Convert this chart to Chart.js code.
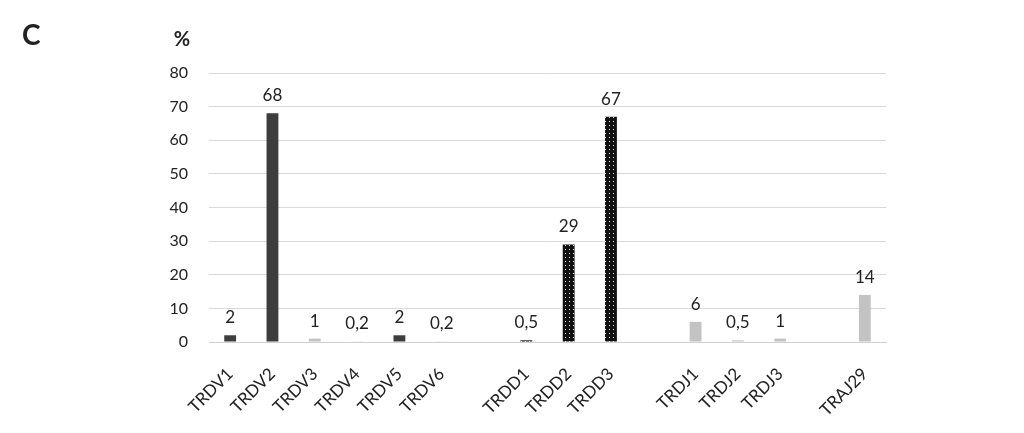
<!DOCTYPE html>
<html>
<head>
<meta charset="utf-8">
<script src="https://cdn.jsdelivr.net/npm/chart.js@4.4.0/dist/chart.umd.min.js"></script>
<style>
  html, body { margin: 0; padding: 0; background: #fff; }
  #wrap { width: 1024px; height: 433px; position: relative; }
</style>
</head>
<body>
<div id="wrap"><canvas id="chart"></canvas></div>
<script>
// categories ('' = empty gap slot between gene groups)
const categories = ['TRDV1', 'TRDV2', 'TRDV3', 'TRDV4', 'TRDV5', 'TRDV6', '',
    'TRDD1', 'TRDD2', 'TRDD3', '', 'TRDJ1', 'TRDJ2', 'TRDJ3', '', 'TRAJ29'];
const values = [2, 68, 1, 0.2, 2, 0.2, null, 0.5, 29, 67, null, 6, 0.5, 1, null, 14];
const valueLabels = ['2', '68', '1', '0,2', '2', '0,2', '', '0,5', '29', '67', '', '6', '0,5', '1', '', '14'];
const barKinds = ['dark', 'dark', 'light', 'light', 'dark', 'light', '',
    'dotted', 'dotted', 'dotted', '', 'light', 'light', 'light', '', 'light'];
const yTicks = [0, 10, 20, 30, 40, 50, 60, 70, 80];

const FONT = 'Lato, "Open Sans", sans-serif';

// black fill with white dots for the TRDD bars
function makeDotPattern() {
    const c = document.createElement('canvas');
    c.width = 4;
    c.height = 4;
    const g = c.getContext('2d');
    g.fillStyle = '#111';
    g.fillRect(0, 0, 4, 4);
    g.fillStyle = '#e8e8e8';
    g.fillRect(1, 1, 1, 1);
    return g.createPattern(c, 'repeat');
}

const ctx = document.getElementById('chart').getContext('2d');
const dotted = makeDotPattern();
const colorFor = { dark: '#3d3d3d', light: '#c3c3c3', dotted: dotted, '': '#fff' };

// value labels above bars
const valueLabelPlugin = {
    id: 'valueLabels',
    afterDatasetsDraw(chart) {
        const c = chart.ctx;
        const meta = chart.getDatasetMeta(0);
        c.save();
        c.font = '17px ' + FONT;
        c.fillStyle = '#222';
        c.textAlign = 'center';
        c.textBaseline = 'alphabetic';
        meta.data.forEach((bar, i) => {
            if (!valueLabels[i]) return;
            c.fillText(valueLabels[i], bar.x, bar.y - 12);
        });
        c.restore();
    }
};

// panel letter and axis unit
const extraTextPlugin = {
    id: 'extraText',
    afterDraw(chart) {
        const c = chart.ctx;
        const area = chart.chartArea;
        c.save();
        c.fillStyle = '#222';
        c.font = 'bold 28px ' + FONT;
        c.textAlign = 'left';
        c.textBaseline = 'middle';
        c.fillText('C', 22, 36);
        c.font = 'bold 20px ' + FONT;
        c.textAlign = 'center';
        c.fillText('%', area.left - 27, 40);
        c.restore();
    }
};

new Chart(ctx, {
    type: 'bar',
    data: {
        labels: categories,
        datasets: [{
            data: values,
            backgroundColor: barKinds.map(k => colorFor[k]),
            borderWidth: 0,
            barPercentage: 0.56,
            categoryPercentage: 0.5
        }]
    },
    options: {
        responsive: true,
        maintainAspectRatio: false,
        animation: false,
        layout: {
            padding: { top: 73, right: 138, bottom: 0, left: 0 }
        },
        scales: {
            y: {
                min: 0,
                max: 80,
                afterBuildTicks(scale) {
                    scale.ticks = yTicks.map(v => ({ value: v }));
                },
                afterFit(scale) {
                    scale.width = 209;
                },
                ticks: {
                    color: '#222',
                    padding: 21,
                    font: { size: 16, family: FONT }
                },
                grid: {
                    color: '#d9d9d9',
                    drawTicks: false
                },
                border: { display: false }
            },
            x: {
                afterFit(scale) {
                    scale.height = 91;
                },
                ticks: {
                    color: '#222',
                    minRotation: 45,
                    maxRotation: 45,
                    autoSkip: false,
                    padding: 22,
                    font: { size: 17, family: FONT }
                },
                grid: {
                    display: false,
                    drawTicks: false
                },
                border: { color: '#d0d0d0' }
            }
        },
        plugins: {
            legend: { display: false },
            tooltip: { enabled: false }
        }
    },
    plugins: [valueLabelPlugin, extraTextPlugin]
});
</script>
</body>
</html>
